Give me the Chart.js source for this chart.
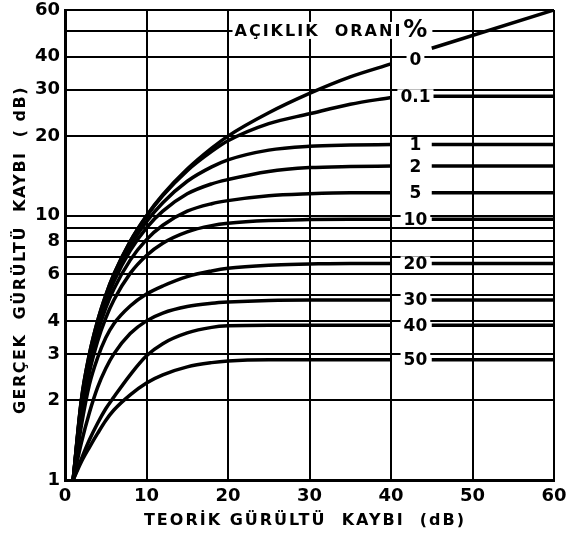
<!DOCTYPE html>
<html>
<head>
<meta charset="utf-8">
<script src="https://cdn.jsdelivr.net/npm/chart.js@4.4.1/dist/chart.umd.min.js"></script>
<style>
  html, body { margin: 0; padding: 0; background: #fff; }
  #wrap { width: 566px; height: 542px; }
</style>
</head>
<body>
<div id="wrap"><canvas id="myChart"></canvas></div>
<script>
// Theoretical noise loss (x axis, dB) where the curves were read
const theoretical = [1, 2, 3, 4, 5, 6, 8, 10, 12, 15, 18, 20, 25, 30, 35, 40];

// Opening ratio (%) of each curve
const openingRatios = ['0', '0.1', '1', '2', '5', '10', '20', '30', '40', '50'];

const loss0   = [1, 2, 3, 4, 5, 6, 8, 10, 12, 15, 18, 20, 24.5, 29, 33.5, 37.5];
const loss0_1 = [1, 2, 3, 4, 5, 6, 7.97, 9.94, 11.9, 14.8, 17.5, 19.2, 22.3, 24.3, 26.4, 28];
const loss1   = [1, 1.97, 2.94, 3.91, 4.87, 5.83, 7.69, 9.49, 11.2, 13.5, 15.3, 16.26, 17.7, 18.3, 18.5, 18.6];
const loss2   = [1, 1.93, 2.88, 3.82, 4.74, 5.64, 7.38, 9.0, 10.4, 12.1, 13.2, 13.7, 14.7, 15.2, 15.35, 15.4];
const loss5   = [1, 1.85, 2.75, 3.62, 4.47, 5.28, 6.79, 8.12, 9.2, 10.4, 11.1, 11.4, 11.9, 12.1, 12.2, 12.2];
const loss10  = [1, 1.74, 2.56, 3.35, 4.1, 4.8, 6.05, 7.07, 7.87, 8.69, 9.17, 9.36, 9.59, 9.67, 9.7, 9.7];
const loss20  = [1, 1.6, 2.3, 2.9, 3.45, 3.9, 4.55, 5.05, 5.42, 5.88, 6.18, 6.33, 6.5, 6.56, 6.6, 6.6];
const loss30  = [1, 1.38, 1.8, 2.24, 2.64, 3.0, 3.58, 4.0, 4.28, 4.53, 4.66, 4.71, 4.78, 4.8, 4.8, 4.8];
const loss40  = [1, 1.2, 1.42, 1.64, 1.86, 2.06, 2.5, 2.95, 3.28, 3.6, 3.78, 3.83, 3.85, 3.85, 3.85, 3.85];
const loss50  = [1, 1.17, 1.33, 1.5, 1.68, 1.84, 2.1, 2.33, 2.5, 2.68, 2.78, 2.82, 2.85, 2.85, 2.85, 2.85];

// Continuation of each curve to the right of the labels
const tailX = [45, 60];
const tailLoss = [[43, 60], [28.3, 28.3], [18.6, 18.6], [15.4, 15.4], [12.2, 12.2],
                  [9.7, 9.7], [6.6, 6.6], [4.8, 4.8], [3.85, 3.85], [2.85, 2.85]];

// Where the ratio labels sit (x and y in dB)
const labelX = 43;
const labelY = [39, 28.3, 18.6, 15.4, 12.2, 9.7, 6.6, 4.8, 3.85, 2.85];

// Y axis grid values and the ones that get a label
const yGridValues = [1, 2, 3, 4, 5, 6, 7, 8, 9, 10, 20, 30, 40, 50, 60];
const yTickLabels = [1, 2, 3, 4, 6, 8, 10, 20, 30, 40, 60];

const xTitle = 'TEORİK GÜRÜLTÜ  KAYBI  (dB)';
const yTitle = 'GERÇEK  GÜRÜLTÜ  KAYBI  ( dB)';
const heading = 'AÇIKLIK  ORANI';

const curves = [loss0, loss0_1, loss1, loss2, loss5, loss10, loss20, loss30, loss40, loss50];

const datasets = [];
curves.forEach((ys, i) => {
    datasets.push({
        label: openingRatios[i],
        data: theoretical.map((x, j) => ({ x: x, y: ys[j] }))
    });
    datasets.push({
        label: openingRatios[i] + ' tail',
        data: tailX.map((x, j) => ({ x: x, y: tailLoss[i][j] })),
        cubicInterpolationMode: 'default',
        tension: 0
    });
});

const FONT = '"DejaVu Sans", sans-serif';

function setSpacing(ctx, s) {
    if ('letterSpacing' in ctx) ctx.letterSpacing = s;
}

// Draws the % labels next to the curves, the heading and the axis titles
const curveLabels = {
    id: 'curveLabels',
    afterDatasetsDraw(chart) {
        const { ctx, scales: { x, y } } = chart;
        ctx.save();
        ctx.font = 'bold 17px ' + FONT;
        ctx.textAlign = 'center';
        ctx.textBaseline = 'middle';
        openingRatios.forEach((r, i) => {
            const px = x.getPixelForValue(labelX);
            const py = y.getPixelForValue(labelY[i]);
            const w = ctx.measureText(r).width;
            ctx.fillStyle = '#fff';
            ctx.fillRect(px - w / 2 - 3, py - 7, w + 6, 14);
            ctx.fillStyle = '#000';
            ctx.fillText(r, px, py + 1);
        });

        // heading
        const hx = x.getPixelForValue(20.8);
        const hy = y.getPixelForValue(50);
        ctx.textAlign = 'left';
        ctx.font = 'bold 16px ' + FONT;
        setSpacing(ctx, '2px');
        const hw = ctx.measureText(heading).width;
        ctx.font = 'bold 24px ' + FONT;
        const pw = ctx.measureText('%').width;
        ctx.fillStyle = '#fff';
        ctx.fillRect(hx - 2, hy - 9, hw + pw + 6, 17);
        ctx.fillStyle = '#000';
        ctx.font = 'bold 16px ' + FONT;
        ctx.fillText(heading, hx, hy + 1);
        ctx.font = 'bold 24px ' + FONT;
        ctx.fillText('%', hx + hw + 1, hy);

        // axis titles
        ctx.font = 'bold 16px ' + FONT;
        ctx.textAlign = 'center';
        setSpacing(ctx, '2px');
        ctx.fillText(xTitle, 305, 521);
        setSpacing(ctx, '1.5px');
        ctx.translate(21, 250);
        ctx.rotate(-Math.PI / 2);
        ctx.fillText(yTitle, 0, 0);
        ctx.restore();
    }
};

const ctx = document.getElementById('myChart').getContext('2d');
new Chart(ctx, {
    type: 'line',
    data: { datasets: datasets },
    plugins: [curveLabels],
    options: {
        responsive: true,
        maintainAspectRatio: false,
        animation: false,
        layout: { padding: { top: 10, right: 12, left: 0, bottom: 0 } },
        plugins: {
            legend: { display: false },
            tooltip: { enabled: false }
        },
        elements: {
            point: { radius: 0 },
            line: { borderWidth: 3.5, borderColor: '#000', cubicInterpolationMode: 'monotone', fill: false }
        },
        scales: {
            x: {
                type: 'linear',
                min: 0,
                max: 60,
                ticks: { stepSize: 10, color: '#000', padding: 6, font: { family: FONT, size: 18, weight: 'bold' } },
                grid: { color: '#000', lineWidth: 2, drawTicks: false },
                border: { color: '#000', width: 3 },
                afterFit: (scale) => {
                    scale.height = 62;
                    scale.paddingLeft = 0;
                    scale.paddingRight = 0;
                }
            },
            y: {
                type: 'logarithmic',
                min: 1,
                max: 60,
                afterBuildTicks: (scale) => {
                    scale.ticks = yGridValues.map(v => ({ value: v }));
                },
                ticks: {
                    autoSkip: false,
                    color: '#000',
                    padding: 5,
                    font: { family: FONT, size: 18, weight: 'bold' },
                    callback: (v) => yTickLabels.includes(v) ? String(v) : ''
                },
                grid: { color: '#000', lineWidth: 2, drawTicks: false },
                border: { color: '#000', width: 3 },
                afterFit: (scale) => {
                    scale.width = 65;
                    scale.paddingTop = 0;
                    scale.paddingBottom = 0;
                }
            }
        }
    }
});
</script>
</body>
</html>
